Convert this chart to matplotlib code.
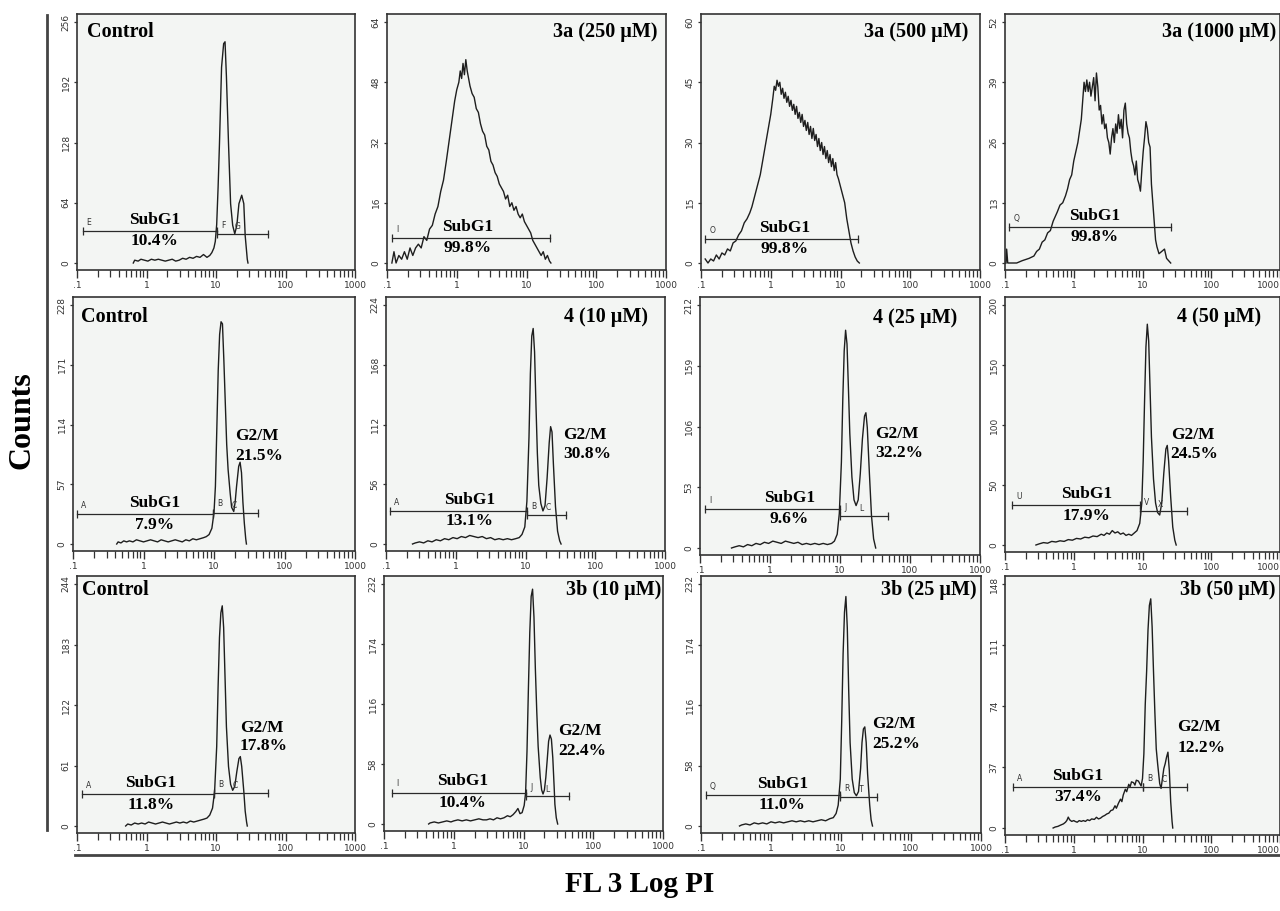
import numpy as np
import matplotlib
matplotlib.use("Agg")
import matplotlib.pyplot as plt
from matplotlib.lines import Line2D
from matplotlib.ticker import FixedLocator, NullFormatter

# ---------------- data (x = log10 FL3 intensity, y = counts) ----------------
titles = ["Control", "3a (250 µM)", "3a (500 µM)", "3a (1000 µM)",
          "Control", "4 (10 µM)", "4 (25 µM)", "4 (50 µM)",
          "Control", "3b (10 µM)", "3b (25 µM)", "3b (50 µM)"]
ymax = [256, 64, 60, 52, 228, 224, 212, 200, 244, 232, 232, 148]
subg1_pct = ["10.4%", "99.8%", "99.8%", "99.8%", "7.9%", "13.1%", "9.6%", "17.9%",
             "11.8%", "10.4%", "11.0%", "37.4%"]
g2m_pct = [None, None, None, None, "21.5%", "30.8%", "32.2%", "24.5%",
           "17.8%", "22.4%", "25.2%", "12.2%"]
x_tick_labels = [".1", "1", "10", "100", "1000"]

p1 = [(-0.19, 0), (-0.17, 3), (-0.12, 2), (-0.08, 4), (-0.03, 3), (0.02, 2), (0.07, 4), (0.12, 3),
      (0.17, 4), (0.22, 3), (0.27, 2), (0.32, 3), (0.37, 4), (0.42, 2), (0.47, 3), (0.52, 5),
      (0.57, 4), (0.62, 6), (0.67, 5), (0.72, 7), (0.77, 6), (0.82, 9), (0.87, 6), (0.91, 8),
      (0.94, 11), (0.97, 16), (0.99, 23), (1.01, 41), (1.03, 80), (1.05, 127), (1.08, 208),
      (1.11, 233), (1.13, 235), (1.15, 198), (1.18, 127), (1.21, 63), (1.24, 40), (1.27, 31),
      (1.30, 40), (1.33, 63), (1.37, 72), (1.40, 63), (1.42, 29), (1.45, 4), (1.46, 0)]
p2 = [(-0.93, 0), (-0.90, 3), (-0.87, 0), (-0.83, 2), (-0.79, 1), (-0.75, 3), (-0.71, 1), (-0.67, 4),
      (-0.63, 2), (-0.59, 4), (-0.55, 5), (-0.51, 4), (-0.47, 7), (-0.43, 6), (-0.39, 9), (-0.35, 10),
      (-0.31, 13), (-0.27, 15), (-0.23, 19), (-0.19, 22), (-0.15, 27), (-0.12, 31), (-0.09, 35),
      (-0.06, 39), (-0.03, 43), (0.0, 46), (0.03, 48), (0.05, 51), (0.07, 49), (0.09, 53), (0.11, 50),
      (0.13, 54), (0.15, 51), (0.17, 49), (0.19, 47), (0.22, 45), (0.25, 44), (0.28, 41), (0.31, 40),
      (0.34, 37), (0.37, 35), (0.40, 34), (0.43, 31), (0.46, 30), (0.49, 27), (0.52, 26), (0.55, 24),
      (0.58, 23), (0.61, 21), (0.64, 20), (0.67, 19), (0.70, 17), (0.73, 18), (0.76, 15), (0.79, 16),
      (0.82, 14), (0.85, 15), (0.88, 13), (0.91, 12), (0.94, 13), (0.97, 11), (1.00, 10), (1.03, 9),
      (1.06, 8), (1.09, 6), (1.12, 5), (1.15, 4), (1.18, 3), (1.21, 2), (1.24, 3), (1.27, 1),
      (1.30, 2), (1.33, 0.5), (1.35, 0)]
p3 = [(-0.94, 1), (-0.90, 0), (-0.86, 1), (-0.82, 0.5), (-0.78, 2), (-0.74, 1), (-0.70, 2.5), (-0.66, 2),
      (-0.62, 3.5), (-0.58, 3), (-0.54, 5), (-0.50, 5.5), (-0.46, 7), (-0.42, 8), (-0.38, 10), (-0.34, 11),
      (-0.30, 12.5), (-0.27, 14), (-0.24, 16), (-0.21, 18), (-0.18, 20), (-0.15, 22), (-0.12, 25),
      (-0.09, 28), (-0.06, 31), (-0.03, 34), (0.0, 37), (0.03, 41), (0.05, 44), (0.07, 43), (0.09, 45.5),
      (0.11, 44), (0.13, 45), (0.15, 42), (0.17, 43.5), (0.19, 41), (0.21, 42.5), (0.23, 40), (0.25, 41.5),
      (0.27, 39), (0.29, 40.5), (0.31, 38), (0.33, 39.5), (0.35, 37), (0.37, 39), (0.39, 36), (0.41, 37.5),
      (0.43, 35), (0.45, 37), (0.47, 34), (0.49, 35.5), (0.51, 33), (0.53, 35), (0.55, 32), (0.57, 34),
      (0.59, 31), (0.61, 33.5), (0.63, 30.5), (0.65, 32), (0.67, 29), (0.69, 31), (0.71, 28), (0.73, 30),
      (0.75, 27), (0.77, 29), (0.79, 26), (0.81, 28), (0.83, 25), (0.85, 27), (0.87, 24), (0.89, 26),
      (0.91, 23), (0.93, 25), (0.95, 22), (0.97, 21), (1.00, 19), (1.03, 17), (1.06, 15), (1.09, 11),
      (1.12, 8), (1.15, 5), (1.18, 3), (1.21, 1.5), (1.24, 0.5), (1.27, 0)]
p4 = [(-0.985, 0), (-0.976, 3), (-0.96, 0), (-0.83, 0), (-0.75, 0.5), (-0.65, 1), (-0.58, 1.5), (-0.54, 2.5),
      (-0.50, 3), (-0.46, 4.5), (-0.42, 5), (-0.38, 6.5), (-0.34, 7), (-0.30, 9), (-0.27, 10), (-0.24, 11),
      (-0.20, 12.5), (-0.16, 13), (-0.12, 14.5), (-0.09, 16), (-0.06, 18), (-0.03, 19), (0.0, 22),
      (0.03, 24), (0.06, 26), (0.09, 29), (0.11, 31), (0.13, 35), (0.15, 39), (0.17, 37), (0.19, 39.5),
      (0.21, 37), (0.23, 39), (0.25, 36), (0.27, 38), (0.29, 40), (0.31, 35), (0.33, 41), (0.35, 38),
      (0.37, 33), (0.39, 34), (0.41, 30), (0.43, 32), (0.45, 29), (0.47, 30), (0.49, 27), (0.51, 26),
      (0.53, 23.5), (0.55, 27), (0.57, 29), (0.59, 26), (0.61, 30), (0.63, 28), (0.65, 32), (0.67, 29),
      (0.69, 31), (0.71, 27), (0.73, 33), (0.75, 34.5), (0.77, 30), (0.79, 28), (0.81, 27), (0.83, 24),
      (0.85, 22), (0.87, 21), (0.89, 19), (0.91, 22), (0.93, 18), (0.95, 17), (0.97, 15.5), (0.99, 20),
      (1.01, 24), (1.03, 27), (1.05, 30.5), (1.07, 29), (1.09, 26), (1.11, 25), (1.13, 17), (1.15, 13),
      (1.17, 9), (1.19, 5), (1.21, 3.5), (1.24, 2), (1.28, 2.5), (1.32, 3), (1.35, 1), (1.38, 0.5), (1.41, 0)]
p5 = [(-0.38, 0), (-0.36, 2), (-0.32, 1), (-0.28, 3), (-0.24, 2), (-0.20, 3), (-0.15, 2), (-0.10, 4),
      (-0.05, 3), (0.0, 2), (0.05, 3), (0.10, 4), (0.15, 3), (0.20, 2), (0.25, 4), (0.30, 3), (0.35, 2),
      (0.40, 3), (0.45, 4), (0.50, 3), (0.55, 2), (0.60, 4), (0.65, 3), (0.70, 5), (0.75, 4), (0.80, 5),
      (0.85, 6), (0.89, 7), (0.93, 9), (0.97, 15), (1.00, 30), (1.02, 55), (1.04, 110), (1.06, 166),
      (1.08, 200), (1.10, 212), (1.12, 210), (1.14, 175), (1.16, 135), (1.18, 95), (1.20, 71), (1.23, 48),
      (1.25, 35), (1.28, 31), (1.30, 40), (1.32, 55), (1.35, 74), (1.37, 78), (1.39, 68), (1.41, 40),
      (1.43, 20), (1.45, 5), (1.46, 0)]
p6 = [(-0.62, 0), (-0.58, 1), (-0.52, 2), (-0.46, 1), (-0.40, 3), (-0.34, 2), (-0.28, 4), (-0.22, 3),
      (-0.16, 5), (-0.10, 4), (-0.04, 6), (0.02, 5), (0.08, 7), (0.14, 6), (0.20, 8), (0.26, 7), (0.32, 6),
      (0.38, 7), (0.44, 5), (0.50, 6), (0.56, 4), (0.62, 5), (0.68, 4), (0.74, 5), (0.80, 4), (0.86, 5),
      (0.91, 6), (0.95, 9), (0.99, 16), (1.02, 40), (1.05, 100), (1.07, 160), (1.09, 195), (1.11, 202),
      (1.13, 180), (1.15, 130), (1.17, 85), (1.19, 55), (1.22, 38), (1.25, 31), (1.28, 36), (1.31, 62),
      (1.34, 95), (1.36, 110), (1.38, 105), (1.40, 75), (1.43, 35), (1.46, 12), (1.49, 3), (1.51, 0)]
p7 = [(-0.55, 0), (-0.50, 1), (-0.44, 2), (-0.38, 1), (-0.32, 3), (-0.26, 2), (-0.20, 4), (-0.14, 3),
      (-0.08, 5), (-0.02, 4), (0.04, 6), (0.10, 5), (0.16, 4), (0.22, 6), (0.28, 5), (0.34, 4), (0.40, 5),
      (0.46, 3), (0.52, 4), (0.58, 3), (0.64, 4), (0.70, 3), (0.76, 4), (0.82, 3), (0.88, 4), (0.92, 6),
      (0.96, 12), (0.99, 30), (1.02, 75), (1.04, 130), (1.06, 172), (1.08, 190), (1.10, 178), (1.12, 140),
      (1.14, 100), (1.17, 62), (1.20, 42), (1.23, 37), (1.26, 42), (1.29, 65), (1.32, 95), (1.35, 115),
      (1.37, 118), (1.39, 105), (1.42, 65), (1.45, 28), (1.48, 8), (1.51, 0)]
p8 = [(-0.55, 0), (-0.50, 1), (-0.44, 2), (-0.38, 1.5), (-0.32, 3), (-0.26, 2.5), (-0.20, 3.5), (-0.14, 3),
      (-0.08, 4.5), (-0.02, 4), (0.04, 5.5), (0.10, 5), (0.16, 6.5), (0.22, 6), (0.28, 7.5), (0.34, 7),
      (0.40, 9), (0.44, 8), (0.48, 10), (0.52, 9), (0.56, 12), (0.60, 10), (0.64, 11), (0.68, 9), (0.72, 10),
      (0.76, 8), (0.80, 9), (0.84, 8), (0.88, 10), (0.92, 12), (0.96, 18), (0.99, 35), (1.01, 70),
      (1.03, 120), (1.05, 165), (1.07, 184), (1.09, 170), (1.11, 130), (1.13, 90), (1.16, 55), (1.19, 35),
      (1.22, 27), (1.25, 25), (1.28, 35), (1.31, 60), (1.34, 80), (1.36, 83), (1.38, 70), (1.41, 40),
      (1.44, 15), (1.47, 4), (1.49, 0)]
p9 = [(-0.30, 0), (-0.27, 2), (-0.22, 1), (-0.17, 3), (-0.12, 2), (-0.07, 3), (-0.02, 2), (0.03, 4),
      (0.08, 3), (0.13, 2), (0.18, 3), (0.23, 4), (0.28, 3), (0.33, 2), (0.38, 3), (0.43, 4), (0.48, 3),
      (0.53, 4), (0.58, 3), (0.63, 5), (0.68, 4), (0.73, 5), (0.78, 6), (0.83, 7), (0.87, 8), (0.91, 11),
      (0.95, 18), (0.98, 35), (1.01, 80), (1.03, 140), (1.05, 190), (1.07, 215), (1.09, 222), (1.11, 200),
      (1.13, 150), (1.15, 100), (1.18, 60), (1.21, 42), (1.24, 36), (1.27, 40), (1.30, 55), (1.33, 68),
      (1.35, 70), (1.37, 60), (1.40, 35), (1.42, 15), (1.44, 4), (1.45, 0)]
p10 = [(-0.36, 0), (-0.34, 1), (-0.28, 2), (-0.22, 1), (-0.16, 2), (-0.10, 3), (-0.04, 2), (0.00, 3),
       (0.06, 4), (0.12, 3), (0.18, 4), (0.24, 3), (0.30, 4), (0.36, 5), (0.42, 4), (0.47, 4), (0.52, 5),
       (0.57, 4), (0.62, 6), (0.67, 5), (0.72, 6), (0.77, 8), (0.81, 7), (0.85, 9), (0.89, 12), (0.92, 15),
       (0.95, 10), (0.98, 11), (1.01, 18), (1.03, 30), (1.05, 70), (1.07, 130), (1.09, 185), (1.11, 220),
       (1.13, 227), (1.15, 200), (1.17, 150), (1.19, 109), (1.21, 75), (1.24, 45), (1.26, 33), (1.28, 29),
       (1.30, 33), (1.32, 45), (1.34, 62), (1.36, 80), (1.38, 86), (1.40, 82), (1.42, 64), (1.44, 35),
       (1.45, 19), (1.47, 6), (1.49, 0)]
p11 = [(-0.45, 0), (-0.42, 1), (-0.36, 2), (-0.30, 1), (-0.24, 3), (-0.18, 2), (-0.12, 3), (-0.06, 2),
       (0.00, 4), (0.06, 3), (0.12, 4), (0.18, 3), (0.24, 4), (0.30, 5), (0.36, 4), (0.42, 5), (0.48, 4),
       (0.54, 5), (0.60, 4), (0.66, 5), (0.72, 6), (0.78, 5), (0.84, 7), (0.89, 8), (0.93, 12), (0.96, 20),
       (0.99, 45), (1.01, 100), (1.03, 165), (1.05, 205), (1.07, 220), (1.09, 190), (1.11, 130), (1.13, 80),
       (1.16, 45), (1.19, 32), (1.22, 29), (1.25, 33), (1.28, 55), (1.30, 80), (1.32, 93), (1.34, 95),
       (1.36, 80), (1.38, 50), (1.41, 20), (1.43, 6), (1.45, 0)]
p12 = [(-0.30, 0), (-0.27, 0.6), (-0.23, 1), (-0.20, 1.6), (-0.15, 2.5), (-0.12, 3.5), (-0.10, 4.6),
       (-0.08, 6.6), (-0.06, 5), (-0.03, 4), (0.0, 4.5), (0.02, 4), (0.05, 3.5), (0.08, 4.5), (0.11, 4),
       (0.14, 4.5), (0.17, 4), (0.20, 5), (0.23, 4.5), (0.26, 5.5), (0.30, 5.2), (0.33, 6.5), (0.36, 5.5),
       (0.39, 6), (0.42, 7), (0.45, 7.6), (0.48, 8.5), (0.51, 9), (0.54, 10.6), (0.57, 11), (0.60, 13.5),
       (0.62, 12), (0.65, 15), (0.68, 17.5), (0.70, 16), (0.72, 20), (0.75, 23.5), (0.77, 22), (0.80, 26.5),
       (0.82, 25), (0.84, 28), (0.87, 27.5), (0.89, 26), (0.91, 29), (0.94, 28.5), (0.96, 27), (0.98, 25.5),
       (1.00, 30), (1.02, 45), (1.04, 75), (1.06, 95), (1.08, 120), (1.10, 135), (1.12, 139), (1.14, 122),
       (1.16, 95), (1.18, 70), (1.20, 48), (1.22, 39), (1.25, 27), (1.27, 24), (1.29, 30), (1.31, 36),
       (1.33, 39), (1.35, 43), (1.37, 46), (1.39, 35), (1.41, 16), (1.43, 4), (1.44, 0)]
histograms = [p1, p2, p3, p4, p5, p6, p7, p8, p9, p10, p11, p12]

# gate markers: (start log10, end log10, level in counts, letter)
gates = [
    [(-0.92, 1.01, 34, "E"), (1.01, 1.75, 31, "F")],
    [(-0.93, 1.34, 6.7, "I")],
    [(-0.94, 1.25, 6.0, "O")],
    [(-0.94, 1.42, 7.8, "Q")],
    [(-0.95, 0.99, 28.5, "A"), (0.99, 1.63, 30, "B")],
    [(-0.94, 1.02, 31, "A"), (1.02, 1.58, 27, "B")],
    [(-0.93, 1.00, 34, "I"), (1.00, 1.69, 28, "J")],
    [(-0.90, 0.96, 33, "U"), (0.96, 1.65, 28, "V")],
    [(-0.93, 0.97, 32, "A"), (0.97, 1.75, 33, "B")],
    [(-0.89, 1.04, 30.4, "I"), (1.04, 1.65, 26.6, "J")],
    [(-0.93, 0.99, 30, "Q"), (0.99, 1.51, 28, "R")],
    [(-0.89, 1.01, 25, "A"), (1.01, 1.65, 25, "B")],
]
dip_letters = ["G", None, None, None, "C", "C", "L", "X", "C", "L", "T", "C"]

# ---------------- layout (pixels) ----------------
W, H = 1280, 911
box_left = [77, 387, 701, 1005, 73, 386, 700, 1005, 77, 384, 701, 1005]
box_right = [355, 666, 980, 1280, 355, 665, 980, 1280, 355, 663, 981, 1280]
box_top = [14, 14, 14, 14, 297, 297, 297, 297, 576, 576, 576, 576]
box_bot = [270, 270, 270, 270, 551, 551, 555, 552, 833, 831, 833, 835]
subg1_xc = [0.12, 0.16, 0.20, 0.30, 0.16, 0.20, 0.28, 0.19, 0.06, 0.13, 0.16, 0.06]
g2m_pos = [None, None, None, None, (1.30, 0.45, 0.367), (1.54, 0.458, 0.375),
           (1.50, 0.47, 0.39), (1.41, 0.46, 0.38), (1.345, 0.407, 0.33),
           (1.50, 0.386, 0.303), (1.44, 0.42, 0.34), (1.506, 0.414, 0.328)]
title_x = [0.036, 0.968, 0.957, 0.985, 0.03, 0.939, 0.918, 0.93, 0.018, 0.995, 0.986, 0.985]
title_y = [0.93, 0.93, 0.93, 0.93, 0.92, 0.92, 0.92, 0.92, 0.945, 0.945, 0.945, 0.945]

SERIF = "Liberation Serif"
plt.rcParams["font.family"] = ["DejaVu Sans"]
fig = plt.figure(figsize=(W / 100, H / 100), dpi=100)
fig.patch.set_facecolor("white")

ink = "#1e1e1e"
for i in range(12):
    l, r, t, b = box_left[i], box_right[i], box_top[i], box_bot[i]
    ax = fig.add_axes([l / W, 1 - b / H, (r - l) / W, (b - t) / H])
    ax.set_facecolor("#f3f5f3")
    ym = ymax[i]
    scale = ym / ((b - 7) - (t + 8))
    ax.set_ylim(-7 * scale, ym + 8 * scale)
    ax.set_xscale("log")
    ax.set_xlim(0.1, 1000)

    xs = 10 ** np.array([p[0] for p in histograms[i]])
    ys = np.array([p[1] for p in histograms[i]])
    ax.plot(xs, ys, color=ink, lw=1.0, zorder=3)

    # gates
    for (g0, g1, gy, letter) in gates[i]:
        ax.plot([10 ** g0, 10 ** g1], [gy, gy], color="#2a2a2a", lw=0.9, zorder=4,
                marker="|", markersize=6, markeredgewidth=0.9)
        ax.annotate(letter, (10 ** g0, gy), xytext=(3, 3), textcoords="offset points",
                    fontsize=5.5, color="#333333", ha="left", va="bottom")
    if dip_letters[i] is not None:
        g0, g1, gy, _ = gates[i][-1]
        ax.annotate(dip_letters[i], (10 ** (g0 + 0.3), gy), xytext=(0, 2),
                    textcoords="offset points", fontsize=5.5, color="#333333",
                    ha="center", va="bottom")

    # SubG1 label
    gy = gates[i][0][2]
    ax.annotate("SubG1", (10 ** subg1_xc[i], gy), xytext=(0, 8), textcoords="offset points",
                ha="center", va="center", fontsize=12.5, fontweight="bold", family=SERIF)
    ax.annotate(subg1_pct[i], (10 ** subg1_xc[i], gy), xytext=(0, -7.5), textcoords="offset points",
                ha="center", va="center", fontsize=12.5, fontweight="bold", family=SERIF)
    if g2m_pos[i] is not None:
        gx, f1, f2 = g2m_pos[i]
        ax.text(10 ** gx, f1 * ym, "G2/M", ha="left", va="center", fontsize=12.5,
                fontweight="bold", family=SERIF)
        ax.text(10 ** gx, f2 * ym, g2m_pct[i], ha="left", va="center", fontsize=12.5,
                fontweight="bold", family=SERIF)

    ha = "left" if titles[i] == "Control" else "right"
    ax.text(title_x[i], title_y[i], titles[i], transform=ax.transAxes, ha=ha, va="center",
            fontsize=14.5, fontweight="bold", family=SERIF)

    # ticks
    ax.xaxis.set_major_locator(FixedLocator([0.1, 1, 10, 100, 1000]))
    ax.set_xticklabels(x_tick_labels)
    ax.xaxis.set_minor_locator(FixedLocator([m * 10.0 ** e for e in range(-1, 3) for m in range(2, 10)]))
    ax.xaxis.set_minor_formatter(NullFormatter())
    ax.tick_params(axis="x", which="major", direction="out", length=6, width=1.0,
                   labelsize=6.5, pad=2, colors="#333333")
    ax.tick_params(axis="x", which="minor", direction="out", length=5, width=0.9, colors="#333333")
    if i % 4 == 3:
        ax.get_xticklabels()[-1].set_horizontalalignment("right")
    yt = [ym * k / 4 for k in range(5)]
    ax.set_yticks(yt)
    ax.set_yticklabels([str(int(round(v))) for v in yt], rotation=90, va="center")
    ax.tick_params(axis="y", which="major", direction="out", length=2.5, width=0.9,
                   labelsize=6.5, pad=2, colors="#333333")
    for sp in ax.spines.values():
        sp.set_color("#333333")
        sp.set_linewidth(1.2)

# outer frame lines
fig.add_artist(Line2D([47 / W, 47 / W], [1 - 15 / H, 1 - 830 / H], transform=fig.transFigure,
                      color="#444444", lw=2.0))
fig.add_artist(Line2D([75 / W, 1.0], [1 - 855 / H, 1 - 855 / H], transform=fig.transFigure,
                      color="#444444", lw=2.0))

fig.text(22 / W, 1 - 420 / H, "Counts", rotation=90, ha="center", va="center",
         fontsize=23, fontweight="bold", family=SERIF)
fig.text(640 / W, 1 - 884 / H, "FL 3 Log PI", ha="center", va="center",
         fontsize=21, fontweight="bold", family=SERIF)

fig.savefig("out.png", dpi=100, facecolor="white")
